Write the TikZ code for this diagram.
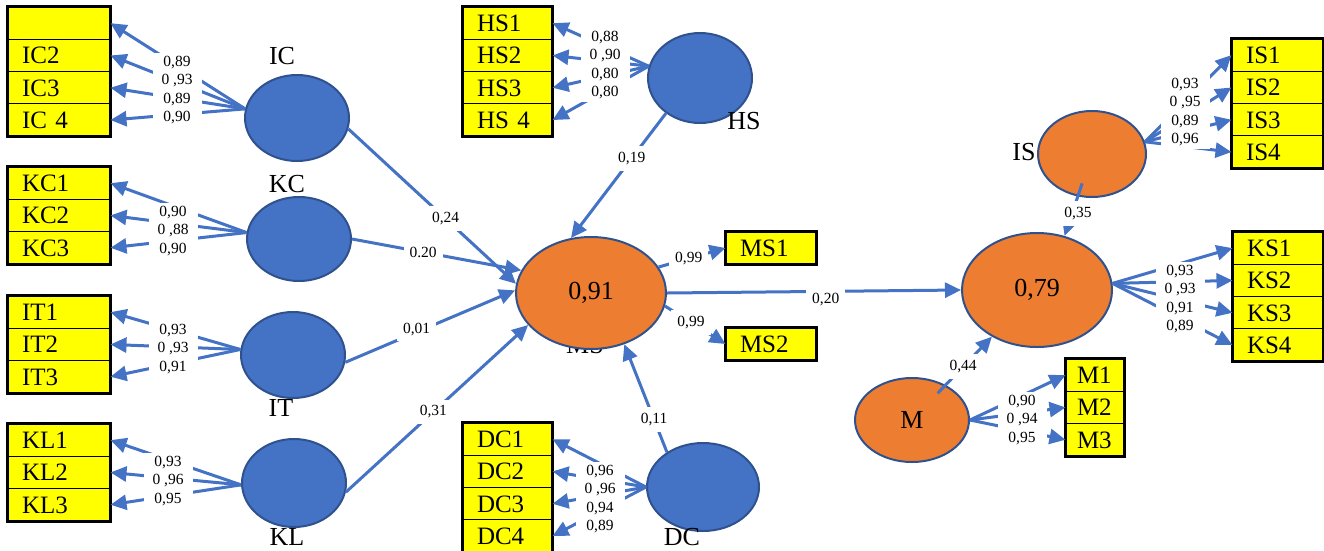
\documentclass[tikz,border=0pt]{standalone}
\usepackage{fontspec}
\setmainfont{Liberation Serif}
\usetikzlibrary{arrows.meta,shapes.geometric,fit}
\definecolor{latblue}{HTML}{4472C4}
\definecolor{latedge}{HTML}{2F528F}
\definecolor{endorange}{HTML}{ED7D31}
\definecolor{boxyellow}{HTML}{FFFF00}
\tikzset{
  lat/.style 2 args={ellipse, draw=latedge, line width=2pt, fill=latblue, inner sep=0pt,
    minimum width=#1, minimum height=#2},
  endo/.style 2 args={lat={#1}{#2}, fill=endorange, font=\fontsize{26}{30}\selectfont},
  latname/.style={inner sep=0pt, font=\fontsize{26}{30}\selectfont},
  ind/.style={rectangle, draw, line width=1pt, fill=boxyellow, minimum height=32.3pt,
    inner ysep=0pt, inner xsep=14pt, text width=#1, align=left, text height=17pt, text depth=0pt,
    font=\fontsize{25}{28}\selectfont},
  frame/.style={draw, line width=2.5pt, inner sep=0pt},
  lnk/.style={line width=3pt, draw=latblue, -{Triangle[length=16pt,width=15pt]}},
  coef/.style={fill=white, align=center, inner xsep=9pt, inner ysep=3pt,
    font=\fontsize{15.5}{18.5}\selectfont},
  slab/.style={fill=white, inner sep=6pt, font=\fontsize{15.5}{18}\selectfont}
}
\begin{document}
\begin{tikzpicture}[x=1pt,y=-1pt]
  \useasboundingbox (0,0) rectangle (1324,550);

  \foreach \n [count=\i] in {{},IC2,IC3,IC 4}
    \node[ind=74pt] (ic\i) at (59,{23.15+32.3*(\i-1)}) {\n};
  \foreach \n [count=\i] in {KC1,KC2,KC3}
    \node[ind=74pt] (kc\i) at (59,{183.15+32.3*(\i-1)}) {\n};
  \foreach \n [count=\i] in {IT1,IT2,IT3}
    \node[ind=74pt] (it\i) at (59,{312.15+32.3*(\i-1)}) {\n};
  \foreach \n [count=\i] in {KL1,KL2,KL3}
    \node[ind=74pt] (kl\i) at (59,{440.15+32.3*(\i-1)}) {\n};
  \foreach \n [count=\i] in {HS1,HS2,HS3,HS 4}
    \node[ind=61pt] (hs\i) at (507.5,{23.15+32.3*(\i-1)}) {\n};
  \foreach \n [count=\i] in {DC1,DC2,DC3,DC4}
    \node[ind=61pt] (dc\i) at (507.5,{439.15+32.3*(\i-1)}) {\n};
  \foreach \n [count=\i] in {IS1,IS2,IS3,IS4}
    \node[ind=63pt] (is\i) at (1277.5,{55.15+32.3*(\i-1)}) {\n};
  \foreach \n [count=\i] in {KS1,KS2,KS3,KS4}
    \node[ind=62pt] (ks\i) at (1278,{248.15+32.3*(\i-1)}) {\n};
  \foreach \n [count=\i] in {M1,M2,M3}
    \node[ind=36pt, inner xsep=11pt] (m\i) at (1095,{375.15+32.3*(\i-1)}) {\n};
  \node[ind=62pt] (ms1) at (771,248) {MS1};
  \node[ind=62pt] (ms2) at (771,344) {MS2};

  \node[frame, fit=(ic1)(ic4)] (icbox) {};
  \node[frame, fit=(kc1)(kc3)] (kcbox) {};
  \node[frame, fit=(it1)(it3)] (itbox) {};
  \node[frame, fit=(kl1)(kl3)] (klbox) {};
  \node[frame, fit=(hs1)(hs4)] (hsbox) {};
  \node[frame, fit=(dc1)(dc4)] (dcbox) {};
  \node[frame, fit=(is1)(is4)] (isbox) {};
  \node[frame, fit=(ks1)(ks4)] (ksbox) {};
  \node[frame, fit=(m1)(m3)] (mbox) {};
  \node[frame, fit=(ms1)] (ms1box) {};
  \node[frame, fit=(ms2)] (ms2box) {};

  \node[latname] (mslab) at (585,345) {MS};

  \node[lat={104}{86}] (ic) at (297,118) {};
  \node[lat={104}{84}] (kc) at (299,239) {};
  \node[lat={104}{86}] (it) at (293,355) {};
  \node[lat={104}{88}] (kl) at (294,483) {};
  \node[lat={104}{90}] (hs) at (700,78) {};
  \node[lat={112}{88}] (dc) at (703,487) {};
  \node[endo={150}{112}] (ms) at (591,293) {0,91};
  \node[endo={150}{114}] (ks) at (1037,290) {0,79};
  \node[endo={108}{86}] (is) at (1092,154) {};
  \node[endo={114}{84}] (m) at (912,420) {M};

  \node[latname] (iclab) at (282,56) {IC};
  \node[latname] (kclab) at (287,184) {KC};
  \node[latname] (itlab) at (281,408) {IT};
  \node[latname] (kllab) at (287,537) {KL};
  \node[latname] (hslab) at (744,121) {HS};
  \node[latname] (dclab) at (682,537) {DC};
  \node[latname] (islab) at (1024,152) {IS};

  \foreach \i in {1,...,4} \draw[lnk] (ic.170) -- (ic\i.east);
  \foreach \i in {1,...,3} \draw[lnk] (kc.173) -- (kc\i.east);
  \foreach \i in {1,...,3} \draw[lnk] (it.174) -- (it\i.east);
  \foreach \i in {1,...,3} \draw[lnk] (kl.182) -- (kl\i.east);
  \foreach \i in {1,...,4} \draw[lnk] (hs.167) -- (hs\i.east);
  \foreach \i in {1,...,4} \draw[lnk] (dc.180) -- (dc\i.east);
  \foreach \i in {1,...,4} \draw[lnk] (is.13) -- (is\i.west);
  \foreach \i in {1,...,4} \draw[lnk] (ks.5) -- (ks\i.west);
  \foreach \i in {1,...,3} \draw[lnk] (m.east) -- (m\i.west);

  \node[coef] (iccoef) at (177,90) {0,89\\0 ,93\\0,89\\0,90};
  \node[coef] (kccoef) at (173,231) {0,90\\0 ,88\\0,90};
  \node[coef] (itcoef) at (173,349) {0,93\\0 ,93\\0,91};
  \node[coef] (klcoef) at (168,481) {0,93\\0 ,96\\0,95};
  \node[coef] (hscoef) at (605,65) {0,88\\0 ,90\\0,80\\0,80};
  \node[coef] (dccoef) at (600,499) {0,96\\0 ,96\\0,94\\0,89};
  \node[coef] (iscoef) at (1185,112) {0,93\\0 ,95\\0,89\\0,96};
  \node[coef] (kscoef) at (1180,299) {0,93\\0 ,93\\0,91\\0,89};
  \node[coef] (mcoef) at (1022,420) {0,90\\0 ,94\\0,95};

  \draw[lnk] (ic.348) -- node[slab, pos=.58] (icms) {0,24} (ms.173);
  \draw[lnk] (kc.east) -- node[slab, pos=.42] (kcms) {0.20} (ms.162);
  \draw[lnk] (it.352) -- node[slab, pos=.42, yshift=3pt] (itms) {0,01} (ms.178);
  \draw[lnk] (kl.350) -- node[slab, pos=.48] (klms) {0,31} (ms.207);
  \draw[lnk] (hs.226) -- node[slab, pos=.36] (hsms) {0,19} (ms.110);
  \draw[lnk] (dc.136) -- node[slab, pos=.3] (dcms) {0,11} (ms.303);
  \draw[lnk] (ms.21) -- node[slab, pos=.45] (msms1) {0,99} (ms1.west);
  \draw[lnk] (ms.350) -- node[slab, pos=.43] (msms2) {0,99} (ms2.west);
  \draw[lnk] (ms.east) -- node[slab, pos=.54, yshift=-8pt] (msks) {0,20} (ks.west);
  \draw[lnk, shorten <=31pt] (is.center) -- node[slab, pos=.73, xshift=6pt] (isks) {0,35} (ks.63);
  \draw[lnk, shorten <=37pt] (m.center) -- node[slab, pos=.64] (mks) {0,44} (ks.226);
\end{tikzpicture}
\end{document}
